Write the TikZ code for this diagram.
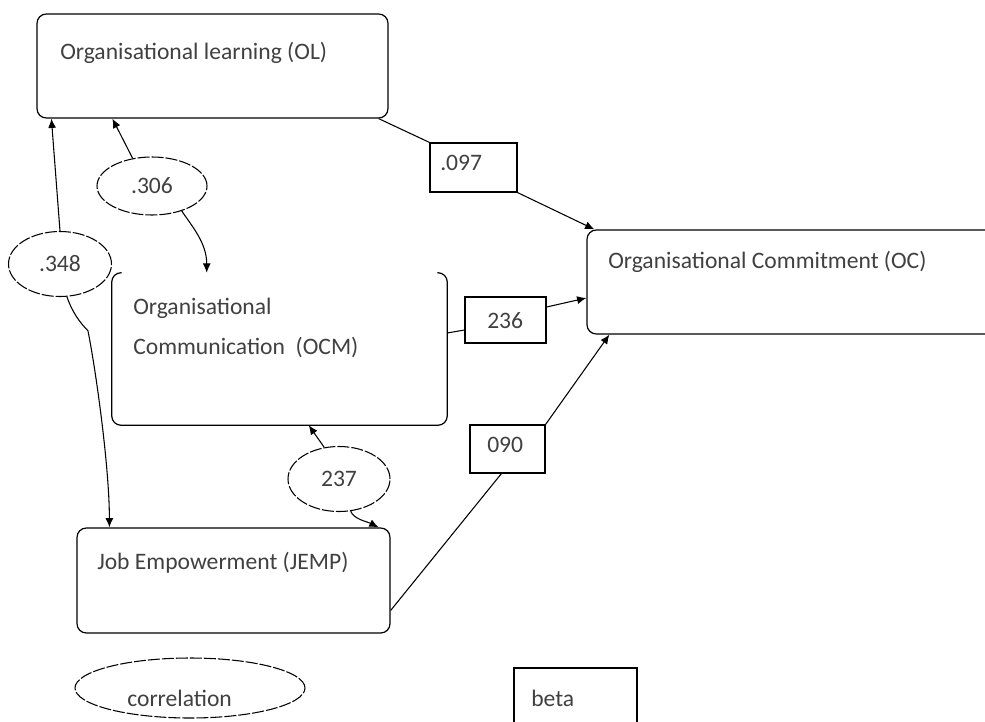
\documentclass[tikz,border=0pt]{standalone}
\usepackage{fontspec}
\setmainfont{Carlito}
\usetikzlibrary{arrows.meta,shapes.geometric,positioning,calc}

\tikzset{
  model/.style={draw, rounded corners=7pt, line width=0.9pt, inner sep=0pt},
  coef/.style={draw, line width=0.9pt, inner sep=0pt},
  corr/.style={draw, ellipse, dash pattern=on 9pt off 1.5pt, line width=0.8pt,
    inner sep=0pt, text=black!75, font=\fontsize{17.7}{20}\selectfont},
  lbl/.style={anchor=west, inner sep=0pt, text=black!75, font=\fontsize{17.7}{20}\selectfont},
  link/.style={line width=0.8pt},
}

\begin{document}
\begin{tikzpicture}[x=0.75pt,y=-0.75pt,>={Latex[length=7pt,width=6pt]}]
    \clip (0,0) rectangle (985,721);
    % variables
    \node[model, minimum width=263.25pt, minimum height=78pt] (OL) at (212.5,66) {};
    \node[lbl] (OLtxt) at (60,53) {Organisational learning (OL)};
    % OCM box, top edge left open
    \node[minimum width=251.25pt, minimum height=114pt, inner sep=0pt] (OCM) at (279.5,349) {};
    \draw[line width=0.9pt, rounded corners=7pt] ($(OCM.north west)+(10,0)$) -- (OCM.north west)
        -- (OCM.south west) -- (OCM.south east) -- (OCM.north east) -- ($(OCM.north east)+(-10,0)$);
    \node[lbl, align=left, font=\fontsize{17.7}{30}\selectfont] (OCMtxt) at (133,328)
        {Organisational\\Communication\ \ (OCM)};
    \node[model, minimum width=309.75pt, minimum height=78pt] (OC) at (793.5,282) {};
    \node[lbl] (OCtxt) at (608,262) {Organisational Commitment (OC)};
    \node[model, minimum width=234.75pt, minimum height=78.75pt] (JEMP) at (233.5,580.5) {};
    \node[lbl] (JEMPtxt) at (97,563) {Job Empowerment (JEMP)};

    % beta boxes
    \node[coef, minimum width=65.25pt, minimum height=36.75pt] (b097) at (473.5,167.5) {};
    \node[lbl] (t097) at (440,163) {.097};
    \node[coef, minimum width=60.75pt, minimum height=34.5pt] (b236) at (505.5,320) {};
    \node[lbl] (t236) at (487,321) {236};
    \node[coef, minimum width=56.25pt, minimum height=36pt] (b090) at (507.5,449) {};
    \node[lbl] (t090) at (487,445) {090};

    % correlations
    \node[corr, minimum width=82.5pt, minimum height=43.5pt] (e306) at (152,186) {.306};
    \node[corr, minimum width=77.25pt, minimum height=48.75pt] (e348) at (60,264) {.348};
    \node[corr, minimum width=76.5pt, minimum height=48.75pt] (e237) at (339,479) {237};

    % paths to OC
    \draw[link] ($(OL.south east)+(-10,0)$) -- (b097.north west);
    \draw[link,->] (b097.south east) -- ($(OC.north west)+(8,0)$);
    \draw[link] ($(OCM.east)+(0,-16)$) -- ($(b236.west)+(0,10)$);
    \draw[link,->] ($(b236.east)+(0,-13)$) -- ($(OC.west)+(0,16)$);
    \draw[link] ($(JEMP.east)+(0,30)$) -- ($(b090.south west)+(32,0)$);
    \draw[link,->] (b090.north east) -- ($(OC.south west)+(23,0)$);

    % correlation arrows
    \draw[link,->] (e306.125) -- ($(OL.south west)+(76,0)$);
    \draw[link,->] (e306.-40) .. controls +(10,15) and +(0,-30) .. ($(OCM.north west)+(95,0)$);
    \draw[link,->] (e348.north) -- ($(OL.south west)+(15,0)$);
    \draw[link,->] (e348.-78) .. controls +(5,15) and +(-8,-8) .. ++(21,34)
        .. controls +(8,40) and +(0,-60) .. ($(JEMP.north west)+(33,0)$);
    \draw[link,->] (e237.115) -- ($(OCM.south west)+(197,0)$);
    \draw[link,->] (e237.-70) .. controls +(3,8) and +(-12,-6) .. ($(JEMP.north east)+(-12,0)$);

    % legend
    \node[corr, minimum width=172.5pt, minimum height=45pt] (legcorr) at (190,688) {};
    \node[lbl] (tcorr) at (127,698) {correlation};
    \node[coef, minimum width=92.25pt, minimum height=50.25pt] (legbeta) at (575.5,701.5) {};
    \node[lbl] (tbeta) at (531,698) {beta};
\end{tikzpicture}
\end{document}
